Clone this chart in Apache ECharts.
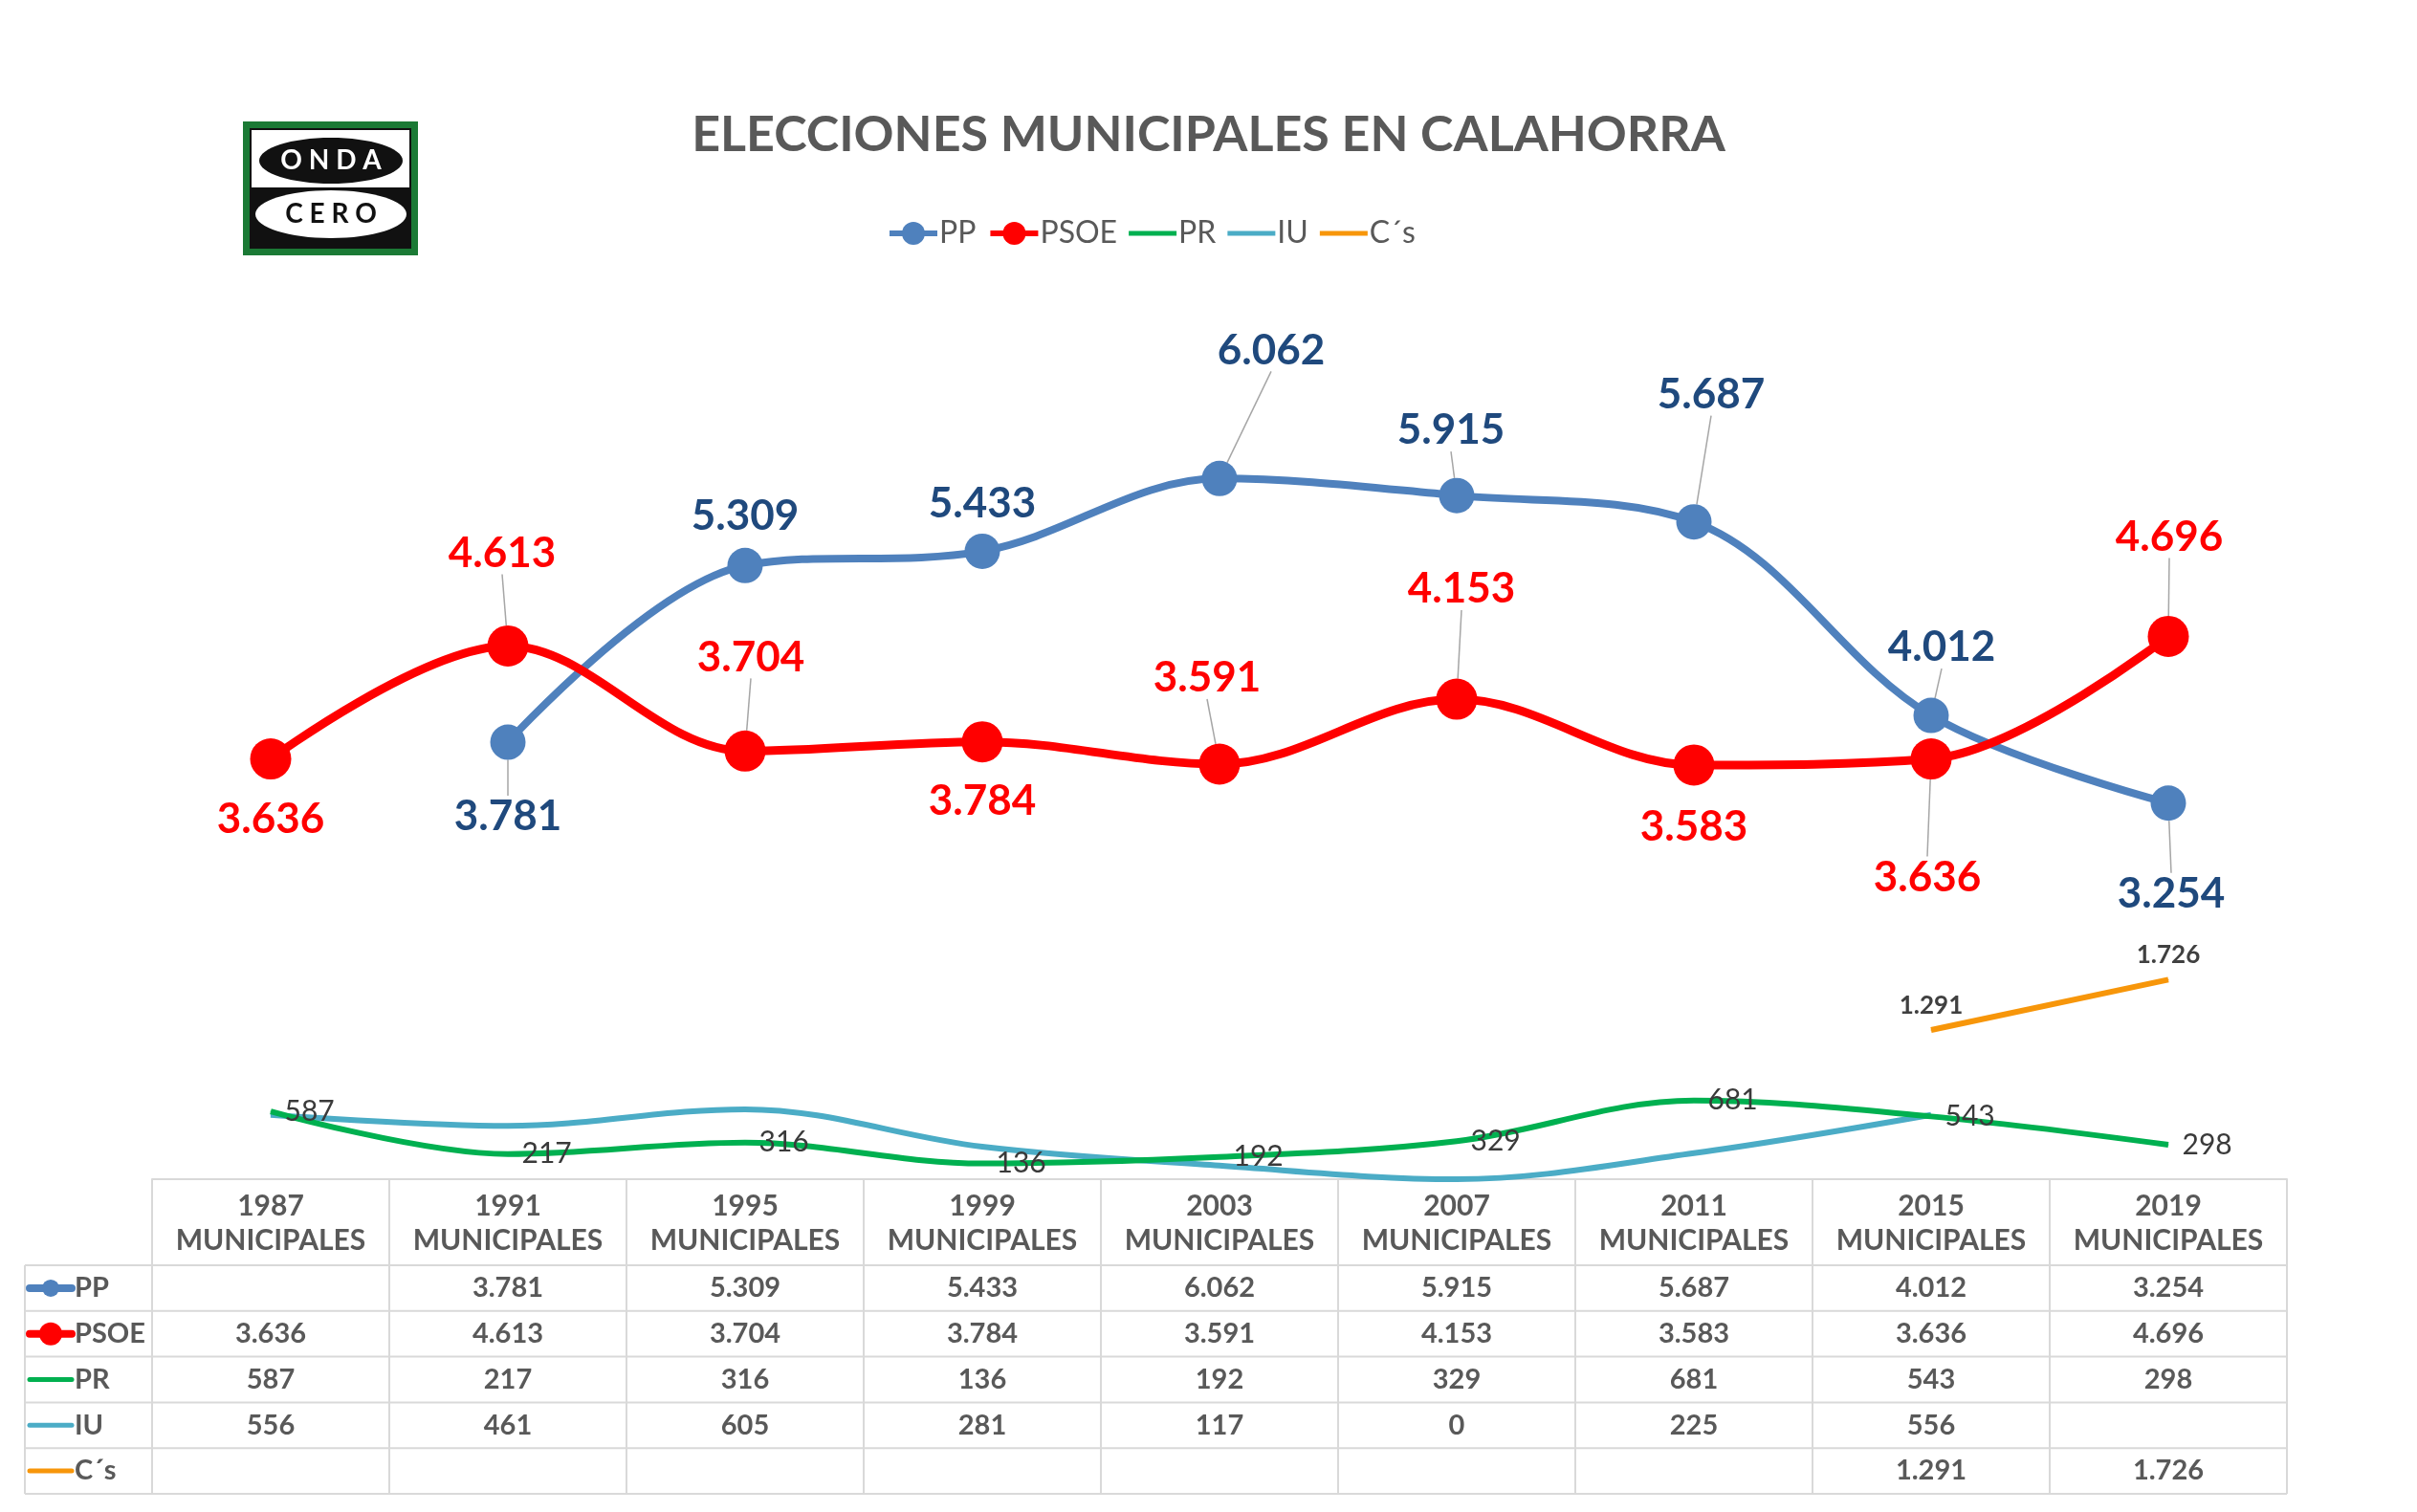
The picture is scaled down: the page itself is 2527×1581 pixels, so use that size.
<!DOCTYPE html>
<html>
<head>
<meta charset="utf-8">
<title>Elecciones municipales en Calahorra</title>
<script src="https://cdn.jsdelivr.net/npm/echarts@6/dist/echarts.min.js"></script>
<style>
  html, body { margin: 0; padding: 0; background: #fff; }
  #chart { width: 2527px; height: 1581px; }
</style>
</head>
<body>
<div id="chart"></div>
<script>
var years = ['1987', '1991', '1995', '1999', '2003', '2007', '2011', '2015', '2019'];
var ppVotes = [null, 3781, 5309, 5433, 6062, 5915, 5687, 4012, 3254];
var psoeVotes = [3636, 4613, 3704, 3784, 3591, 4153, 3583, 3636, 4696];
var prVotes = [587, 217, 316, 136, 192, 329, 681, 543, 298];
var iuVotes = [556, 461, 605, 281, 117, 0, 225, 556, null];
var csVotes = [null, null, null, null, null, null, null, 1291, 1726];
var partyNames = ['PP', 'PSOE', 'PR', 'IU', 'C´s'];
var partyColors = ['#4F81BD', '#FF0000', '#00B050', '#4BACC6', '#F7960A'];

// nudges for the big labels: [dx, dy, leader line]
var ppLabelPos = [null, [0, 78, true], [0, -52, false], [0, -50, false], [54, -134, true],
    [-6, -68, true], [18, -133, true], [11, -71, true], [3, 95, true]];
var psoeLabelPos = [[0, 63, false], [-6, -97, true], [6, -98, true], [0, 62, false], [-13, -90, true],
    [5, -115, true], [0, 65, false], [-4, 124, true], [1, -104, true]];

var FONT = 'Lato, "Noto Sans", sans-serif';
var barIcon = 'path://M0,0H100V10H0Z';

function fmt(v) {
    if (v == null) return '';
    if (v < 1000) return String(v);
    var r = String(v % 1000);
    while (r.length < 3) r = '0' + r;
    return Math.floor(v / 1000) + '.' + r;
}

function withLines(values, pos) {
    return values.map(function (v, i) {
        if (v == null) return '-';
        return { value: v, labelLine: { show: !!(pos[i] && pos[i][2]) } };
    });
}

var dom = document.getElementById('chart');
var myChart = echarts.init(dom);

var bigLabel = function (color) {
    return {
        show: true,
        position: 'inside',
        fontSize: 44,
        fontWeight: 'bold',
        fontFamily: FONT,
        color: color,
        formatter: function (p) { return fmt(p.value); }
    };
};

var option = {
    animation: false,
    backgroundColor: '#fff',
    title: {
        text: 'ELECCIONES MUNICIPALES EN CALAHORRA',
        left: 'center',
        top: 110,
        textStyle: { fontSize: 52, fontWeight: 'bold', color: '#595959', fontFamily: FONT }
    },
    legend: {
        top: 223,
        left: 922,
        itemWidth: 50,
        itemHeight: 30,
        itemGap: 12,
        lineStyle: { width: 6 },
        textStyle: { fontSize: 32, color: '#595959', fontFamily: FONT, padding: [0, 0, 0, -3] },
        data: [
            { name: 'PP' },
            { name: 'PSOE' },
            { name: 'PR', icon: barIcon },
            { name: 'IU', icon: barIcon },
            { name: 'C´s', icon: barIcon }
        ]
    },
    grid: { left: 159, right: 136, top: 387, bottom: 348 },
    xAxis: {
        type: 'category',
        data: years,
        boundaryGap: true,
        axisTick: { show: false },
        axisLine: { lineStyle: { color: '#D9D9D9', width: 2 } },
        axisLabel: {
            interval: 0,
            margin: 10,
            fontSize: 30,
            lineHeight: 36,
            fontWeight: 'bold',
            color: '#595959',
            fontFamily: FONT,
            formatter: function (v) { return v + '\nMUNICIPALES'; }
        }
    },
    yAxis: { type: 'value', min: 0, max: 7000, show: false },
    series: [
        {
            name: 'PP', type: 'line', smooth: 0.35,
            data: withLines(ppVotes, ppLabelPos),
            symbol: 'circle', symbolSize: 37,
            lineStyle: { width: 8, color: partyColors[0] },
            itemStyle: { color: partyColors[0] },
            label: bigLabel('#1F497D'),
            labelLine: { show: true, lineStyle: { color: '#A6A6A6', width: 1.5 } },
            labelLayout: function (p) {
                var q = ppLabelPos[p.dataIndex] || [0, 0];
                return { dx: q[0], dy: q[1] };
            },
            z: 3
        },
        {
            name: 'PSOE', type: 'line', smooth: 0.35,
            data: withLines(psoeVotes, psoeLabelPos),
            symbol: 'circle', symbolSize: 43,
            lineStyle: { width: 9, color: partyColors[1] },
            itemStyle: { color: partyColors[1] },
            label: bigLabel('#FF0000'),
            labelLine: { show: true, lineStyle: { color: '#A6A6A6', width: 1.5 } },
            labelLayout: function (p) {
                var q = psoeLabelPos[p.dataIndex] || [0, 0];
                return { dx: q[0], dy: q[1] };
            },
            z: 4
        },
        {
            name: 'PR', type: 'line', smooth: 0.35,
            data: prVotes,
            symbol: 'circle', symbolSize: 1,
            lineStyle: { width: 6, color: partyColors[2] },
            itemStyle: { color: partyColors[2] },
            label: {
                show: true, position: 'right', distance: 14,
                fontSize: 30, color: '#3A3A3A', fontFamily: FONT
            },
            z: 2
        },
        {
            name: 'IU', type: 'line', smooth: 0.35,
            data: iuVotes,
            symbol: 'circle', symbolSize: 1,
            lineStyle: { width: 6, color: partyColors[3] },
            itemStyle: { color: partyColors[3] },
            z: 1
        },
        {
            name: 'C´s', type: 'line', smooth: 0.35,
            data: csVotes,
            symbol: 'circle', symbolSize: 1,
            lineStyle: { width: 6, color: partyColors[4] },
            itemStyle: { color: partyColors[4] },
            label: {
                show: true, position: 'top', distance: 12,
                fontSize: 26, fontWeight: 'bold', color: '#404040', fontFamily: FONT,
                formatter: function (p) { return fmt(p.value); }
            },
            z: 2
        }
    ]
};

myChart.setOption(option);

// data table under the plot, plus the logo
var allVotes = [ppVotes, psoeVotes, prVotes, iuVotes, csVotes];
var gridLeft = 159, gridRight = 2527 - 136;
var tableTop = 1233, headerBottom = 1323, rowH = 47.8, keyLeft = 26;
var tableBottom = headerBottom + rowH * partyNames.length;
var lineCol = '#D9D9D9';
var els = [];

// vertical borders
var centers = years.map(function (y, i) {
    return myChart.convertToPixel({ xAxisIndex: 0 }, i);
});
var colW = centers[1] - centers[0];
for (var c = 0; c <= years.length; c++) {
    var x = gridLeft + c * colW;
    els.push({ type: 'line', shape: { x1: x, y1: tableTop, x2: x, y2: tableBottom },
        style: { stroke: lineCol, lineWidth: 2 } });
}
els.push({ type: 'line', shape: { x1: keyLeft, y1: headerBottom, x2: keyLeft, y2: tableBottom },
    style: { stroke: lineCol, lineWidth: 2 } });
for (var r = 0; r <= partyNames.length; r++) {
    var yy = headerBottom + r * rowH;
    els.push({ type: 'line', shape: { x1: keyLeft, y1: yy, x2: gridRight, y2: yy },
        style: { stroke: lineCol, lineWidth: 2 } });
}

partyNames.forEach(function (name, s) {
    var cy = headerBottom + rowH * (s + 0.5);
    var big = s < 2;
    els.push({ type: 'line', shape: { x1: 31, y1: cy, x2: 75, y2: cy },
        style: { stroke: partyColors[s], lineWidth: big ? 8 : 5, lineCap: 'round' } });
    if (big) {
        els.push({ type: 'circle', shape: { cx: 53, cy: cy, r: s === 0 ? 9 : 12 },
            style: { fill: partyColors[s] } });
    }
    els.push({ type: 'text', x: 78, y: cy, style: {
        text: name, fontSize: 29, fontWeight: 'bold', fontFamily: FONT, fill: '#595959',
        align: 'left', verticalAlign: 'middle' } });
    allVotes[s].forEach(function (v, i) {
        if (v == null) return;
        els.push({ type: 'text', x: centers[i], y: cy, style: {
            text: fmt(v), fontSize: 29, fontWeight: 'bold', fontFamily: FONT, fill: '#595959',
            align: 'center', verticalAlign: 'middle' } });
    });
});

// Onda Cero logo
els.push({ type: 'rect', shape: { x: 254, y: 127, width: 183, height: 140 }, style: { fill: '#1B7A35' } });
els.push({ type: 'rect', shape: { x: 261, y: 134, width: 169, height: 126 }, style: { fill: '#111' } });
els.push({ type: 'rect', shape: { x: 263, y: 136, width: 165, height: 60 }, style: { fill: '#fff' } });
els.push({ type: 'ellipse', shape: { cx: 346, cy: 168, rx: 75, ry: 24 }, style: { fill: '#111' } });
els.push({ type: 'ellipse', shape: { cx: 346, cy: 224, rx: 79, ry: 25 }, style: { fill: '#fff' } });
els.push({ type: 'text', x: 346, y: 168, style: { text: 'O N D A', fontSize: 28, fontWeight: 'bold',
    fontFamily: FONT, fill: '#fff', align: 'center', verticalAlign: 'middle' } });
els.push({ type: 'text', x: 346, y: 224, style: { text: 'C E R O', fontSize: 28, fontWeight: 'bold',
    fontFamily: FONT, fill: '#111', align: 'center', verticalAlign: 'middle' } });

myChart.setOption({ graphic: { elements: els } });
</script>
</body>
</html>
